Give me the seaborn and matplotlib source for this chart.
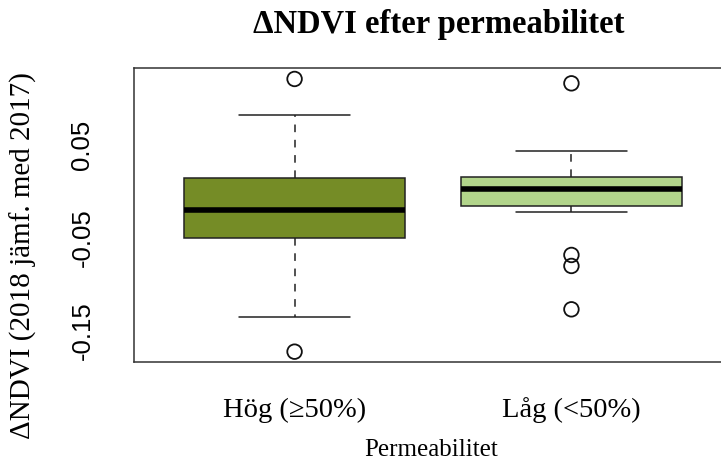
import numpy as np
import pandas as pd
import matplotlib
matplotlib.use("Agg")
import matplotlib.pyplot as plt
import seaborn as sns

# values (R base boxplot)
grupper = ["Hög (≥50%)", "Låg (<50%)"]
median = [-0.0200, 0.0023]
q1 = [-0.0497, -0.0157]
q3 = [0.0147, 0.0151]
whis_lo = [-0.1346, -0.0218]
whis_hi = [0.0821, 0.0437]
outliers_hog = [0.1208, -0.1722]
outliers_lag = [0.1161, -0.0683, -0.0801, -0.1267]
farger = ["#758c26", "#b2d58b"]

yticks = [-0.15, -0.10, -0.05, 0.00, 0.05, 0.10]
ytick_labels = ["-0.15", "", "-0.05", "", "0.05", ""]

sns.set_style("white")
serif = ["Liberation Serif", "DejaVu Serif"]
sans = ["Liberation Sans", "DejaVu Sans"]
plt.rcParams["font.family"] = serif
plt.rcParams["text.color"] = "black"
plt.rcParams["xtick.color"] = "black"
plt.rcParams["ytick.color"] = "black"
plt.rcParams["axes.labelcolor"] = "black"

fig = plt.figure(figsize=(7.21, 4.61), dpi=100)
W, H = 721, 461
ax = fig.add_axes([134 / W, 1 - 362 / H, (732 - 134) / W, (362 - 67.7) / H])

stats = []
for i, g in enumerate(grupper):
    stats.append(dict(label=g, med=median[i], q1=q1[i], q3=q3[i],
                      whislo=whis_lo[i], whishi=whis_hi[i], fliers=[]))

pos = [i + 1 for i in range(len(grupper))]
bp = ax.bxp(stats, positions=pos, widths=0.8, patch_artist=True, showfliers=False,
            boxprops=dict(edgecolor="#222222", linewidth=1.1),
            medianprops=dict(color="black", linewidth=4.0, solid_capstyle="butt"),
            whiskerprops=dict(color="#222222", linewidth=1.1, linestyle=(0, (5, 5))),
            capprops=dict(color="#222222", linewidth=1.1))
for patch, c in zip(bp["boxes"], farger):
    patch.set_facecolor(c)

# outliers drawn as open circles
out = pd.DataFrame({
    "grupp": [grupper[0]] * len(outliers_hog) + [grupper[1]] * len(outliers_lag),
    "dndvi": outliers_hog + outliers_lag,
})
out["x"] = out["grupp"].map({g: i + 1 for i, g in enumerate(grupper)})
sns.scatterplot(data=out, x="x", y="dndvi", ax=ax, s=110, marker="o",
                facecolor="none", edgecolor="#111111", linewidth=1.3, zorder=5)

ax.set_xlim(0.42, 2.58)
ax.set_ylim(-0.1833, 0.1329)
ax.set_xticks(pos)
ax.set_xticklabels(grupper, fontsize=20.5, family=serif)
ax.set_yticks(yticks)
ax.set_yticklabels(ytick_labels, fontsize=18.5, family=sans, rotation=90, va="center")
ax.tick_params(axis="both", length=12.5, width=1.0, color="#333333", direction="out")
ax.tick_params(axis="y", pad=16)
ax.tick_params(axis="x", pad=13)
for s in ax.spines.values():
    s.set_color("#333333")
    s.set_linewidth(1.1)

ax.set_xlabel("Permeabilitet", fontsize=18, family=serif)
ax.xaxis.set_label_coords((431 - 134) / 598, -(450 - 362) / 294.3)
ax.xaxis.label.set_va("center")
ax.set_ylabel("ΔNDVI (2018 jämf. med 2017)", fontsize=21, family=serif)
ax.yaxis.set_label_coords((23.5 - 134) / 598, (362 - 256) / 294.3)
ax.yaxis.label.set_va("center")

fig.text(439 / W, 1 - 25 / H, "ΔNDVI efter permeabilitet", ha="center", va="center",
         fontsize=23.5, fontweight="bold", family=serif)

fig.savefig("out.png", dpi=100)
